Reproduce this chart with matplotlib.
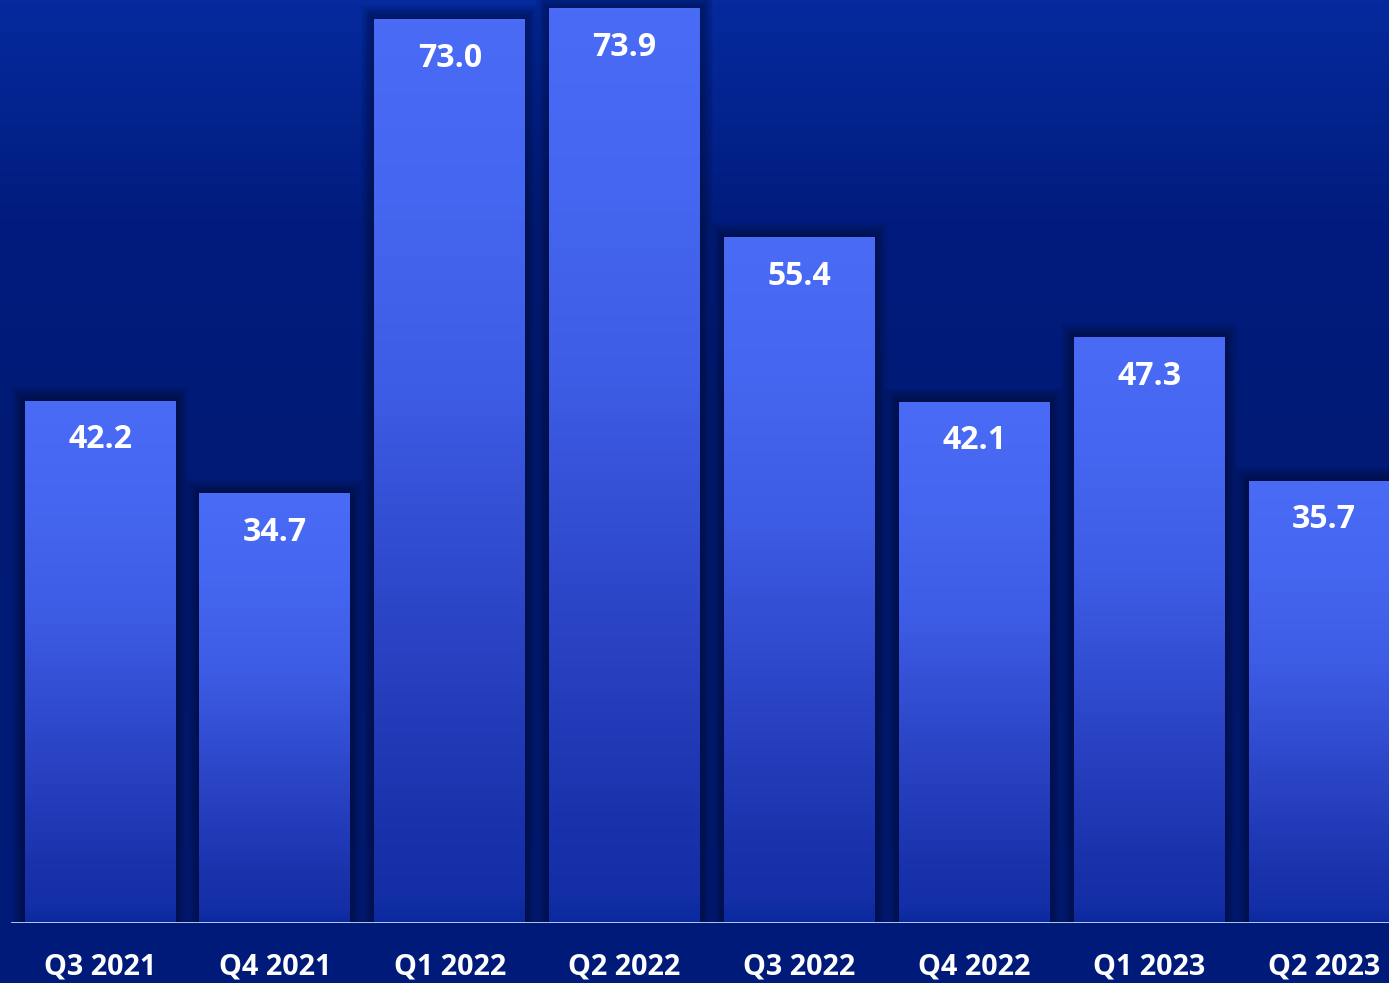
import numpy as np
import matplotlib
matplotlib.use("Agg")
import matplotlib.pyplot as plt
from matplotlib.colors import LinearSegmentedColormap
from matplotlib.patches import Rectangle

categories = ["Q3 2021", "Q4 2021", "Q1 2022", "Q2 2022", "Q3 2022", "Q4 2022", "Q1 2023", "Q2 2023"]
values = [42.2, 34.7, 73.0, 73.9, 55.4, 42.1, 47.3, 35.7]
value_labels = ["42.2", "34.7", "73.0", "73.9", "55.4", "42.1", "47.3", "35.7"]

plt.rcParams['font.family'] = ['Open Sans', 'DejaVu Sans']

W, H = 1389, 983
fig = plt.figure(figsize=(W / 100, H / 100), dpi=100)

# background gradient
bg_ax = fig.add_axes([0, 0, 1, 1], zorder=0)
bg_cmap = LinearSegmentedColormap.from_list(
    "bg", [(0.0, "#001b7a"), (0.55, "#001a76"), (0.78, "#001c7e"), (1.0, "#062a9e")])
grad = np.linspace(0, 1, 256).reshape(-1, 1)
bg_ax.imshow(grad, cmap=bg_cmap, aspect="auto", origin="lower", extent=(0, 1, 0, 1))
bg_ax.set_axis_off()

bottom_px = 60
ax = fig.add_axes([0, bottom_px / H, 1, 1 - bottom_px / H], zorder=1)
ax.patch.set_alpha(0)
pitch_px = 174.86
x0_px = 100
xlim = (-x0_px / pitch_px, (W - x0_px) / pitch_px)
px_per_unit = 12.38
ylim = (0, (H - bottom_px) / px_per_unit)
ax.set_xlim(*xlim)
ax.set_ylim(*ylim)

x = np.arange(len(values))
width = 0.862
bars = ax.bar(x, values, width=width, color="none", zorder=3)

bar_cmap = LinearSegmentedColormap.from_list(
    "bar", [(0.0, "#0a2a9e"), (0.03, "#132ea6"), (0.12, "#1a33ad"), (0.35, "#2c46c8"),
            (0.6, "#3e5de6"), (0.8, "#4566f0"), (1.0, "#4a6bf6")])
dx = 1 / pitch_px
dy = 1 / px_per_unit
for b, v in zip(bars, values):
    bx = b.get_x()
    # soft shadow
    for k in range(1, 12):
        ax.add_patch(Rectangle((bx - k * dx * 1.2, 0), width + 2 * k * dx * 1.2, v + k * dy * 1.3,
                               facecolor="black", edgecolor="none", alpha=0.035, zorder=2))
    im = ax.imshow(grad, cmap=bar_cmap, aspect="auto", origin="lower",
                   extent=(bx, bx + width, 0, v), zorder=3)
    im.set_clip_path(b)

ax.set_xlim(*xlim)
ax.set_ylim(*ylim)

for xi, v, lab in zip(x, values, value_labels):
    ax.annotate(lab, (xi, v), xytext=(0, -28), textcoords="offset points",
                ha="center", va="center", color="white", fontsize=23, fontweight="bold", zorder=5)

ax.axhline(0, xmin=(-0.503 - xlim[0]) / (xlim[1] - xlim[0]), xmax=1, color="#c8d4ff", lw=2, zorder=4)

ax.set_xticks(x)
ax.set_xticklabels(categories, color="white", fontsize=20.7, fontweight="bold")
ax.tick_params(axis="x", length=0, pad=21)
ax.set_yticks([])
for s in ax.spines.values():
    s.set_visible(False)

fig.savefig("out.png", dpi=100)
